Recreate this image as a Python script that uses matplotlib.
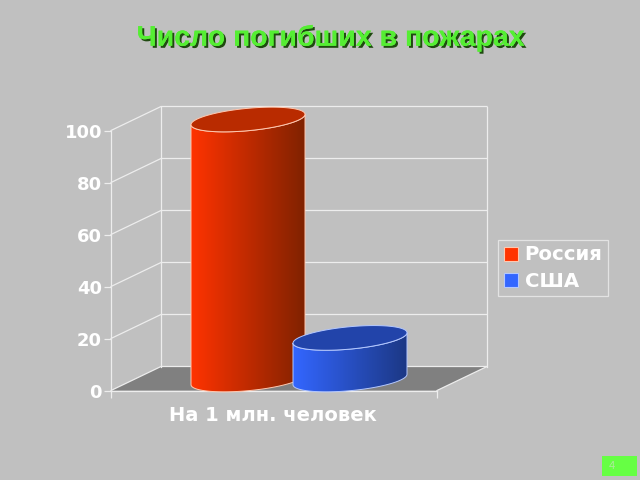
import numpy as np
import matplotlib
matplotlib.use("Agg")
import matplotlib.pyplot as plt
from matplotlib.patches import Polygon, Rectangle, Patch
import matplotlib.patheffects as pe

title = "Число погибших в пожарах"
category = "На 1 млн. человек"
series_names = ["Россия", "США"]
series_values = [100, 16]
yticks = [0, 20, 40, 60, 80, 100]

BG = "#C0C0C0"
W, H = 640, 480
FONT = "Liberation Sans"
LABEL = "DejaVu Sans"
LINE = "#EDEDED"

fig = plt.figure(figsize=(6.4, 4.8), dpi=100, facecolor=BG)
ax = fig.add_axes([111 / W, (H - 390.5) / H, 326 / W, 260 / H])
ax.patch.set_alpha(0)
U = 2.6
DX, DY = 50, 24 / U
ax.set_xlim(0, 326)
ax.set_ylim(0, 100)

# walls and floor
ax.add_patch(Polygon([(0, 0), (326, 0), (326 + DX, DY), (DX, DY)], fc="#808080", ec="none", clip_on=False, zorder=1))
for v in yticks:
    ax.plot([0, DX, 326 + DX], [v, v + DY, v + DY], color=LINE, lw=0.9, clip_on=False, zorder=1.2)
ax.plot([DX, DX], [DY, 100 + DY], color=LINE, lw=0.9, clip_on=False, zorder=1.2)
ax.plot([326 + DX, 326 + DX], [DY, 100 + DY], color=LINE, lw=0.9, clip_on=False, zorder=1.2)
ax.plot([326, 326 + DX], [0, DY], color=LINE, lw=0.9, clip_on=False, zorder=1.2)


def cylinder(cx, value, c_left, c_right, c_top, edge, z):
    a, b, s = 57, 11.2, 5.2
    base = 11 / U
    t = np.linspace(np.pi, 2 * np.pi, 60)
    ex = cx + a * np.cos(t)
    ey = (b * np.sin(t) + s * np.cos(t)) / U
    lower = np.column_stack([ex, base + ey])
    upper = np.column_stack([ex, base + value + ey])[::-1]
    side = np.vstack([lower, upper])
    c0, c1 = np.array(matplotlib.colors.to_rgb(c_left)), np.array(matplotlib.colors.to_rgb(c_right))
    g = np.linspace(0, 1, 128)[None, :, None]
    img = c0[None, None, :] * (1 - g) + c1[None, None, :] * g
    im = ax.imshow(img, extent=[cx - a, cx + a, -5, base + value + 5], aspect="auto", zorder=z)
    clip = Polygon(side, transform=ax.transData, fc="none", ec="none")
    ax.add_patch(clip)
    im.set_clip_box(fig.bbox)
    im.set_clip_path(clip)
    ax.add_patch(Polygon(side, fc="none", ec=edge, lw=0.7, clip_on=False, zorder=z + 0.1))
    tt = np.linspace(0, 2 * np.pi, 120)
    top = np.column_stack([cx + a * np.cos(tt), base + value + (b * np.sin(tt) + s * np.cos(tt)) / U])
    ax.add_patch(Polygon(top, fc=c_top, ec=edge, lw=0.7, clip_on=False, zorder=z + 0.2))


cylinder(137, series_values[0], "#FF3300", "#802200", "#B92B00", "#FFC8B0", 3)
cylinder(239, series_values[1], "#3366FF", "#1C3885", "#2244AA", "#B4C8FF", 4)
ax.set_xlim(0, 326)
ax.set_ylim(0, 100)

# axes
for k in ("top", "right"):
    ax.spines[k].set_visible(False)
for k in ("left", "bottom"):
    ax.spines[k].set_color(LINE)
    ax.spines[k].set_linewidth(0.9)
ax.set_yticks(yticks)
ax.set_yticklabels([str(v) for v in yticks], fontname=LABEL, fontweight="bold", fontsize=13, color="white")
ax.tick_params(axis="y", length=5, color=LINE, width=0.9, pad=1.5)
ax.set_xticks([162])
ax.set_xticklabels([category], fontname=LABEL, fontweight="bold", fontsize=14, color="white")
ax.tick_params(axis="x", which="major", length=0, pad=11)
ax.set_xticks([0, 326], minor=True)
ax.tick_params(axis="x", which="minor", length=5, color=LINE, width=0.9)

# legend
handles = [Patch(fc="#FF3300", ec="#FFC8B0", lw=0.8), Patch(fc="#3366FF", ec="#B4C8FF", lw=0.8)]
leg = fig.legend(handles, series_names, loc="center left",
                 bbox_to_anchor=(498 / W, (H - 268) / H), frameon=True, fancybox=False,
                 facecolor="none", edgecolor=LINE, framealpha=None, borderaxespad=0,
                 prop={"family": LABEL, "weight": "bold", "size": 14.2},
                 labelcolor="white", handlelength=0.72, handleheight=0.72, handletextpad=0.35,
                 borderpad=0.28, labelspacing=0.36)
leg.get_frame().set_linewidth(0.9)

# title
fig.text(331 / W, (H - 38.5) / H, title, ha="center", va="center", fontname=FONT, fontweight="bold",
         fontsize=20.5, color="#55EE33",
         path_effects=[pe.withSimplePatchShadow(offset=(1.5, -1.5), shadow_rgbFace="#1F4A10", alpha=1.0), pe.Normal()])

# page number box
fig.add_artist(Rectangle((602 / W, (H - 476) / H), 35 / W, 20 / H, transform=fig.transFigure, fc="#66FF44", ec="none"))
fig.text(612 / W, (H - 466) / H, "4", ha="center", va="center", fontname=FONT, fontsize=8, color="#B0E8A0")

fig.savefig("out.png", dpi=100, facecolor=BG)
